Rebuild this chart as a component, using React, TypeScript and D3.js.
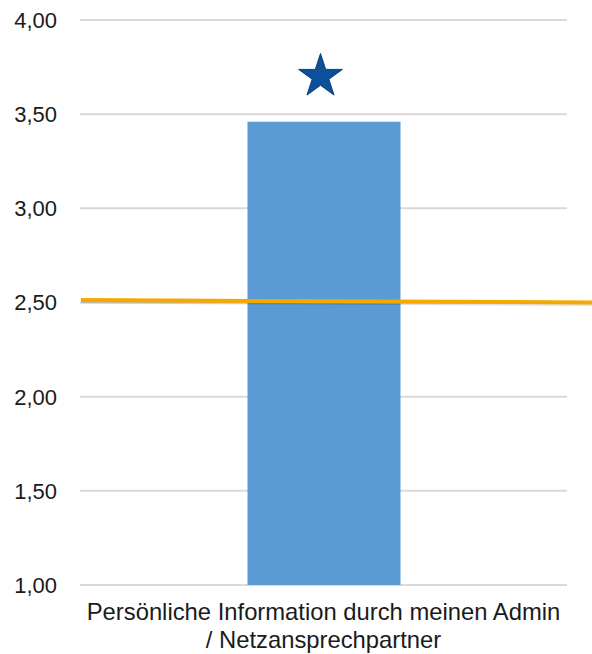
import React from "react";
import * as d3 from "d3";

const categories = ["Persönliche Information durch meinen Admin / Netzansprechpartner"];
const labelLines = ["Persönliche Information durch meinen Admin", "/ Netzansprechpartner"];
const values = [3.46];
const yTicks = [1.0, 1.5, 2.0, 2.5, 3.0, 3.5, 4.0];
const referenceStart = 2.513;
const referenceEnd = 2.5;
const starValue = 3.7;

const W = 592;
const H = 654;
const left = 80;
const right = 567;
const top = 20;
const bottom = 585;

export default function App() {
  const y = d3.scaleLinear().domain([1, 4]).range([bottom, top]);
  const x = d3.scaleBand().domain(categories).range([left, right]).paddingInner(0).paddingOuter(0.5);
  const fmt = (v: number) => v.toFixed(2).replace(".", ",");

  const bw = 153;
  const cx = (x(categories[0]) as number) + x.bandwidth() / 2;

  // five-pointed star path
  const R = 23;
  const r = R * 0.382;
  const starPts: [number, number][] = [];
  for (let i = 0; i < 10; i++) {
    const a = -Math.PI / 2 + (i * Math.PI) / 5;
    const rad = i % 2 === 0 ? R : r;
    starPts.push([rad * Math.cos(a), rad * Math.sin(a)]);
  }
  const starPath = d3.line()(starPts) + "Z";

  return (
    <svg width={W} height={H} style={{ position: "absolute", left: 0, top: 0, fontFamily: "Arial, 'Liberation Sans', sans-serif" }}>
      <rect width={W} height={H} fill="#fff" />
      {yTicks.map((t) => (
        <g key={t}>
          <line x1={left} x2={right} y1={y(t)} y2={y(t)} stroke="#d9d9d9" strokeWidth={2} />
          <text x={57} y={y(t)} dy="0.36em" textAnchor="end" fontSize={22} fill="#1a1a1a">
            {fmt(t)}
          </text>
        </g>
      ))}
      {values.map((v, i) => (
        <rect
          key={i}
          x={cx - bw / 2 + 0.5}
          y={y(v)}
          width={bw}
          height={y(1) - y(v)}
          fill="#5b9bd5"
        />
      ))}
      <line x1={left + 1} x2={W} y1={y(referenceStart) + 2} y2={y(referenceEnd) + 2} stroke="#000" strokeOpacity={0.12} strokeWidth={3} />
      <line x1={left + 1} x2={W} y1={y(referenceStart)} y2={y(referenceEnd)} stroke="#f5a800" strokeWidth={4} />
      <path d={starPath} transform={`translate(${cx - 3},${y(starValue)})`} fill="#0b5098" stroke="#0a3f78" strokeWidth={1} />
      {labelLines.map((l, i) => (
        <text key={i} x={cx} y={620 + i * 28} textAnchor="middle" fontSize={23.8} fill="#1a1a1a">
          {l}
        </text>
      ))}
    </svg>
  );
}
